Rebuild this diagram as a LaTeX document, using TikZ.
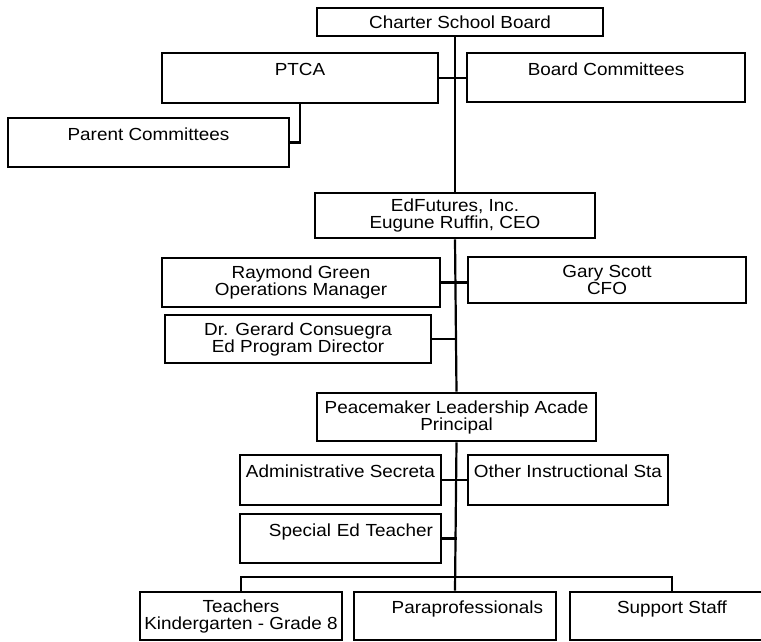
\documentclass[tikz,border=0pt]{standalone}
\usepackage{fontspec}
\setmainfont{Liberation Sans}[FakeStretch=1.08]
\usepackage{tikz}
\usetikzlibrary{calc,positioning}

\begin{document}
\begin{tikzpicture}[x=1pt, y=-1pt,
    unit/.style={draw, rectangle, line width=2.6pt, inner sep=0pt, align=center,
        font=\fontsize{17.5}{17}\selectfont},
    link/.style={line width=2.2pt}]

    \useasboundingbox (0,0) rectangle (761,641);
    \clip (0,0) rectangle (761,641);

% Board level
    \node[unit, minimum width=286, minimum height=28] (csb) at (460,22) {Charter School Board};
    \node[unit, minimum width=276, minimum height=50] (ptca) at (300,78) {PTCA\\~};
    \node[unit, minimum width=278, minimum height=49] (bcom) at (606,77.5) {Board Committees\\~};
    \node[unit, minimum width=281, minimum height=49] (pcom) at (148.5,142.5) {Parent Committees\\~};

% Management company
    \node[unit, minimum width=280, minimum height=45] (edf) at (455,215.5) {EdFutures, Inc.\\Eugune Ruffin, CEO};
    \node[unit, minimum width=278, minimum height=49] (rg) at (301,282.5) {Raymond Green\\Operations Manager};
    \node[unit, minimum width=278, minimum height=46] (gs) at (607,280) {Gary Scott\\CFO};
    \node[unit, minimum width=266, minimum height=48] (gc) at (298,339) {Dr. Gerard Consuegra\\Ed Program Director};

% School level
    \node[unit, minimum width=279, minimum height=48] (pla) at (456.5,417) {Peacemaker Leadership Acade\\Principal};
    \node[unit, minimum width=201, minimum height=50] (asec) at (340.5,480) {Administrative Secreta\\~};
    \node[unit, minimum width=200, minimum height=50] (oins) at (568,480) {Other Instructional Sta\\~};
    \node[unit, minimum width=201, minimum height=49, text width=185, align=right] (sped) at (340.5,538.5) {Special Ed Teacher\\~};

% Staff row
    \node[unit, minimum width=202, minimum height=48] (tch) at (241,616) {Teachers\\Kindergarten - Grade 8};
    \node[unit, minimum width=202, minimum height=48, text width=176, align=right] (para) at (455,616) {Paraprofessionals\\~};
    \node[unit, minimum width=204, minimum height=48] (supp) at (672,616) {Support Staff\\~};

% Draw the main trunk
    \draw[link] (edf.north |- csb.south) -- (edf.north);
    \draw[link] (edf.south) -- (pla.north);
    \draw[link] (pla.south) -- (para.north);

% Draw side branches
    \draw[link] (ptca.east) -- (ptca.east -| bcom.west);
    \draw[link] (ptca.south) |- (pcom.east);
    \draw[link] (rg.east) -- (rg.east -| gs.west);
    \draw[link] (gc.east) -- (gc.east -| edf.south);
    \draw[link] (asec.east) -- (asec.east -| oins.west);
    \draw[link] (sped.east) -- (sped.east -| pla.south);

% Draw the staff bus
    \coordinate (bus) at (455,577);
    \draw[link] (tch.north) |- (bus) -| (supp.north);

\end{tikzpicture}
\end{document}
